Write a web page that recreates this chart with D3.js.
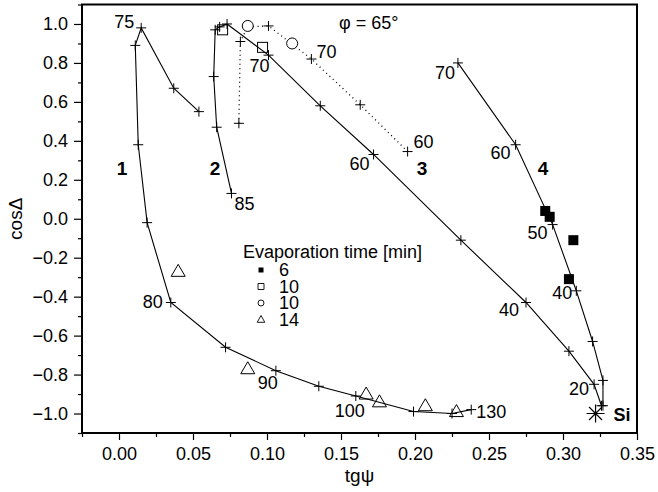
<!DOCTYPE html>
<html>
<head>
<meta charset="utf-8">
<script src="https://cdn.jsdelivr.net/npm/d3@7"></script>
<style>
  body { margin: 0; background: #fff; }
  svg { font-family: "Liberation Sans", Arial, sans-serif; }
</style>
</head>
<body>
<div id="chart"></div>
<script>
// Data: [tgψ, cosΔ]
var curve1 = [[0.054, 0.55], [0.037, 0.67], [0.015, 0.98], [0.011, 0.89], [0.013, 0.38],
  [0.019, -0.02], [0.035, -0.43], [0.072, -0.66], [0.106, -0.78], [0.135, -0.86],
  [0.160, -0.91], [0.199, -0.99], [0.225, -1.0], [0.238, -0.98]];
var curve2 = [[0.076, 0.13], [0.066, 0.47], [0.064, 0.73], [0.065, 0.97], [0.068, 0.985], [0.073, 1.0]];
var curve3 = [[0.073, 1.0], [0.101, 0.84], [0.136, 0.58], [0.172, 0.33], [0.231, -0.11],
  [0.275, -0.43], [0.304, -0.68], [0.321, -0.85], [0.326, -0.96]];
var curve3dot = [[0.081, 0.49], [0.082, 0.91], [0.087, 0.985], [0.101, 0.99], [0.130, 0.82],
  [0.163, 0.585], [0.195, 0.345]];
var curve4 = [[0.229, 0.80], [0.268, 0.38], [0.293, -0.03], [0.309, -0.37], [0.320, -0.63],
  [0.327, -0.83], [0.327, -0.96]];

var time6 = [[0.288, 0.04], [0.291, 0.01], [0.307, -0.11], [0.304, -0.31]];
var time10sq = [[0.070, 0.97], [0.097, 0.88]];
var time10circ = [[0.087, 0.99], [0.117, 0.90]];
var time14 = [[0.040, -0.27], [0.087, -0.77], [0.167, -0.90], [0.176, -0.94], [0.207, -0.96], [0.228, -0.99]];
var siPoint = [0.322, -1.0];

var legendLabels = ["6", "10", "10", "14"];
var xTicks = [0, 0.05, 0.10, 0.15, 0.20, 0.25, 0.30, 0.35];
var yTicks = [-1.0, -0.8, -0.6, -0.4, -0.2, 0.0, 0.2, 0.4, 0.6, 0.8, 1.0];

// point labels: text and the point they belong to
var pointLabels = [
  ["75", 0.015, 0.98], ["85", 0.076, 0.13], ["80", 0.035, -0.43], ["90", 0.106, -0.78],
  ["100", 0.160, -0.91], ["130", 0.238, -0.98], ["70", 0.101, 0.84], ["60", 0.172, 0.33],
  ["70", 0.130, 0.82], ["60", 0.195, 0.345], ["70", 0.229, 0.80], ["60", 0.268, 0.38],
  ["50", 0.293, -0.03], ["40", 0.309, -0.37], ["40", 0.275, -0.43], ["20", 0.321, -0.85]
];
// where each label sits relative to its point
var labelOffsets = [
  ["end", -7, 0], ["start", 3, 17], ["end", -8, 5], ["middle", -8, 18],
  ["middle", -6, 21], ["start", 5, 8], ["middle", -9, 17], ["middle", -14, 16],
  ["start", 5, -1], ["start", 6, -4], ["end", -3, 16], ["end", -5, 14],
  ["end", -5, 14], ["end", -4, 8], ["end", -7, 13], ["end", -5, 11]
];

var svgWidth = 658, svgHeight = 492;
var plotLeft = 82, plotRight = 637, plotTop = 4.5, plotBottom = 433;
var fontSize = "18px";

var svg = d3.select("#chart").append("svg")
  .attr("width", svgWidth)
  .attr("height", svgHeight);

var x = d3.scaleLinear().domain([-0.025, 0.35]).range([plotLeft, plotRight]);
var y = d3.scaleLinear().domain([-1.1, 1.1]).range([plotBottom, plotTop]);

// minor ticks
var xMinor = d3.range(-0.025, 0.35, 0.05);
var yMinor = d3.range(-1.1, 1.15, 0.2);

svg.append("g").attr("transform", `translate(0,${plotBottom})`)
  .call(d3.axisBottom(x).tickValues(xMinor).tickSize(4).tickFormat(""))
  .call(g => g.select(".domain").remove());
svg.append("g").attr("transform", `translate(${plotLeft},0)`)
  .call(d3.axisLeft(y).tickValues(yMinor).tickSize(4).tickFormat(""))
  .call(g => g.select(".domain").remove());

var xAxis = svg.append("g").attr("transform", `translate(0,${plotBottom})`)
  .call(d3.axisBottom(x).tickValues(xTicks).tickSize(7).tickPadding(7).tickFormat(d3.format(".2f")));
xAxis.select(".domain").remove();
xAxis.selectAll("text").attr("font-size", fontSize).attr("fill", "#000").style("font-family", "Liberation Sans, Arial, sans-serif");

var yAxis = svg.append("g").attr("transform", `translate(${plotLeft},0)`)
  .call(d3.axisLeft(y).tickValues(yTicks).tickSize(8).tickPadding(6).tickFormat(d3.format(".1f")));
yAxis.select(".domain").remove();
yAxis.selectAll("text").attr("font-size", fontSize).attr("fill", "#000").style("font-family", "Liberation Sans, Arial, sans-serif");

svg.selectAll(".tick line").attr("stroke", "#000").attr("stroke-width", 1.2);

// frame
svg.append("rect")
  .attr("x", plotLeft).attr("y", plotTop)
  .attr("width", plotRight - plotLeft).attr("height", plotBottom - plotTop)
  .attr("fill", "none").attr("stroke", "#000").attr("stroke-width", 2);

// axis titles
svg.append("text")
  .text("tgψ")
  .attr("x", (plotLeft + plotRight) / 2)
  .attr("y", 482)
  .attr("text-anchor", "middle")
  .attr("font-size", "19px");

svg.append("text")
  .text("cosΔ")
  .attr("transform", `translate(22,${(plotTop + plotBottom) / 2}) rotate(-90)`)
  .attr("text-anchor", "middle")
  .attr("font-size", "19px");

// curves
var line = d3.line().x(d => x(d[0])).y(d => y(d[1]));

[curve1, curve2, curve3, curve4].forEach(function(c) {
  svg.append("path").datum(c)
    .attr("d", line)
    .attr("fill", "none")
    .attr("stroke", "#000")
    .attr("stroke-width", 1.1);
});

svg.append("path").datum(curve3dot)
  .attr("d", line)
  .attr("fill", "none")
  .attr("stroke", "#000")
  .attr("stroke-width", 1.3)
  .attr("stroke-dasharray", "1,3.5");

// crosses on every computed point
var allPoints = [].concat(curve1, curve2, curve3.slice(1), curve3dot.filter((d, i) => i != 2), curve4);
svg.append("g").selectAll("path")
  .data(allPoints)
  .enter()
  .append("path")
  .attr("d", "M-5,0H5M0,-5V5")
  .attr("transform", d => `translate(${x(d[0])},${y(d[1])})`)
  .attr("stroke", "#000")
  .attr("stroke-width", 1);

// experimental markers
svg.append("g").selectAll("rect")
  .data(time6).enter().append("rect")
  .attr("x", d => x(d[0]) - 5).attr("y", d => y(d[1]) - 5)
  .attr("width", 10).attr("height", 10)
  .attr("fill", "#000");

svg.append("g").selectAll("rect")
  .data(time10sq).enter().append("rect")
  .attr("x", d => x(d[0]) - 5).attr("y", d => y(d[1]) - 5)
  .attr("width", 10).attr("height", 10)
  .attr("fill", "none").attr("stroke", "#000").attr("stroke-width", 1);

svg.append("g").selectAll("circle")
  .data(time10circ).enter().append("circle")
  .attr("cx", d => x(d[0])).attr("cy", d => y(d[1]))
  .attr("r", 5.5)
  .attr("fill", "#fff").attr("stroke", "#000").attr("stroke-width", 1);

svg.append("g").selectAll("path")
  .data(time14).enter().append("path")
  .attr("d", "M0,-7L7,5H-7Z")
  .attr("transform", d => `translate(${x(d[0])},${y(d[1])})`)
  .attr("fill", "none").attr("stroke", "#000").attr("stroke-width", 1);

// Si
svg.append("path")
  .attr("d", "M0,-9V9M-9,0H9M-6.5,-6.5L6.5,6.5M-6.5,6.5L6.5,-6.5")
  .attr("transform", `translate(${x(siPoint[0])},${y(siPoint[1])})`)
  .attr("stroke", "#000").attr("stroke-width", 1.2);
svg.append("text")
  .text("Si")
  .attr("x", x(siPoint[0]) + 18).attr("y", y(siPoint[1]) + 7)
  .attr("font-size", fontSize).attr("font-weight", "bold");

// point labels
svg.append("g").selectAll("text")
  .data(pointLabels).enter().append("text")
  .text(d => d[0])
  .attr("x", (d, i) => x(d[1]) + labelOffsets[i][1])
  .attr("y", (d, i) => y(d[2]) + labelOffsets[i][2])
  .attr("text-anchor", (d, i) => labelOffsets[i][0])
  .attr("font-size", fontSize);

// curve numbers
var curveNames = [["1", 122], ["2", 215], ["3", 422], ["4", 543]];
svg.append("g").selectAll("text")
  .data(curveNames).enter().append("text")
  .text(d => d[0])
  .attr("x", d => d[1])
  .attr("y", 175)
  .attr("text-anchor", "middle")
  .attr("font-size", "19px")
  .attr("font-weight", "bold");

svg.append("text")
  .text("φ = 65°")
  .attr("x", 339).attr("y", 29)
  .attr("font-size", fontSize);

// legend
var legend = svg.append("g");
legend.append("text")
  .text("Evaporation time [min]")
  .attr("x", 243).attr("y", 258)
  .attr("font-size", fontSize);

var legendMarks = [
  "M-2.5,-2.5H2.5V2.5H-2.5Z",
  "M-3,-3H3V3H-3Z",
  "M3,0A3,3 0 1,1 -3,0A3,3 0 1,1 3,0Z",
  "M0,-4L3.8,2.8H-3.8Z"
];
legendLabels.forEach(function(lab, i) {
  var cy = 270 + i * 16.5;
  legend.append("path")
    .attr("d", legendMarks[i])
    .attr("transform", `translate(261,${cy})`)
    .attr("fill", i == 0 ? "#000" : "none")
    .attr("stroke", "#000")
    .attr("stroke-width", i == 0 ? 0 : 0.9);
  legend.append("text")
    .text(lab)
    .attr("x", 279).attr("y", cy + 6)
    .attr("font-size", fontSize);
});
</script>
</body>
</html>
